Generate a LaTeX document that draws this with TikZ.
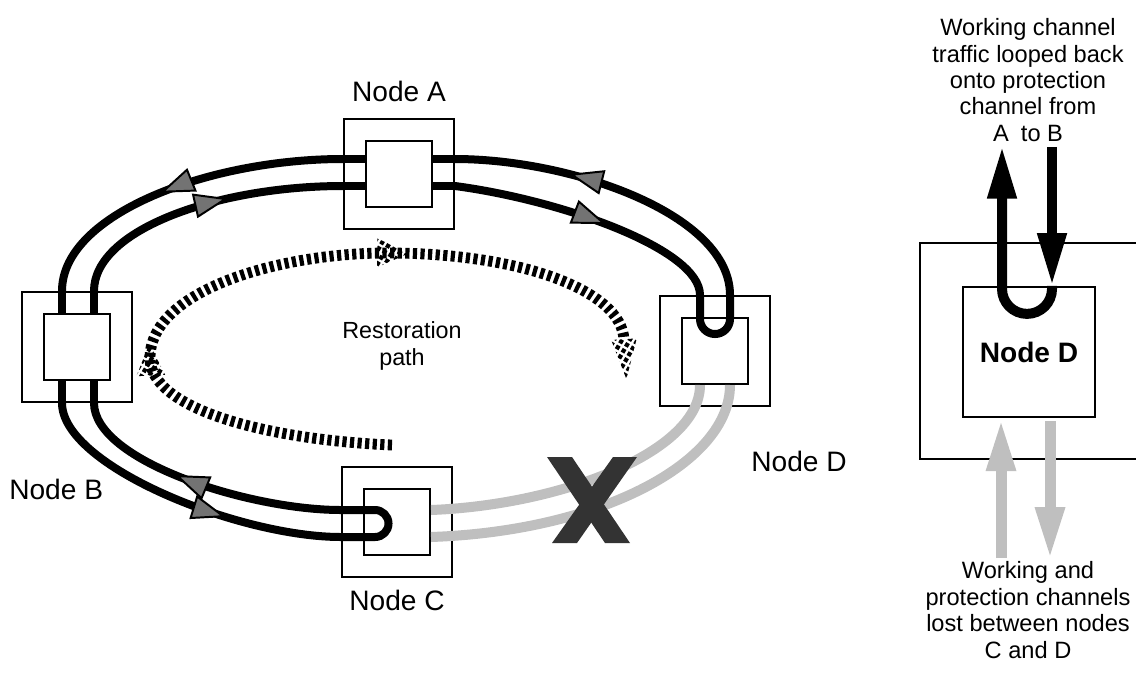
\documentclass[tikz,border=0pt]{standalone}
\usepackage{fontspec}
\setmainfont{Liberation Sans}
\usetikzlibrary{positioning, calc, arrows.meta, decorations.markings, patterns.meta}

\tikzset{
    outerbox/.style={draw, line width=0.7pt, fill=white, minimum width=13.75mm, minimum height=13.75mm, inner sep=0pt},
    innerbox/.style={draw, line width=0.7pt, fill=white, minimum width=8.25mm, minimum height=8.25mm, inner sep=0pt},
    lbl/.style={inner sep=0pt},
    smalltext/.style={inner sep=0pt, align=center, font=\fontsize{8.4}{9.4}\selectfont},
    chan/.style={line width=1mm, line cap=round, line join=round},
    chanarrow/.style={postaction={decorate, decoration={markings,
        mark=at position #1 with {\arrow{Triangle[length=4.3mm, width=3.1mm, line width=0.7pt, fill=black!55]}}}}},
    lost/.style={line width=1.25mm, draw=black!25},
    restore/.style={line width=1.35mm, dash pattern=on 1.5pt off 1.2pt},
    hatchhead/.style={pattern={Lines[angle=60, distance=2.4pt, line width=1.5pt]}},
    restoreheads/.style={postaction={decorate, decoration={markings,
        mark=at position 0.33 with {\fill[hatchhead] (2mm,0) -- (-2mm,1.8mm) -- (-2mm,-1.8mm) -- cycle;},
        mark=at position 0.68 with {\fill[hatchhead] (2mm,0) -- (-2mm,1.8mm) -- (-2mm,-1.8mm) -- cycle;},
        mark=at position 0.999 with {\fill[hatchhead] (5mm,0) -- (0,1.6mm) -- (0,-1.6mm) -- cycle;}}}},
    loopback/.style={line width=1.25mm},
    lostarrow/.style={line width=1.375mm, draw=black!25, -{Triangle[length=6.5mm, width=3.4mm]}}
}

\begin{document}
\begin{tikzpicture}[x=0.125mm, y=-0.125mm]
        \useasboundingbox (0,0) rectangle (1136,675);

        % Ring nodes
        \node[outerbox] (A) at (399,174) {};
        \node[outerbox] (B) at (77,347) {};
        \node[outerbox] (C) at (397,522) {};
        \node[outerbox] (D) at (715,351) {};
        \node[innerbox] (Ci) at (C) {};
        \node[innerbox] (Di) at (D) {};

        % Node labels
        \node[lbl, above=1.9mm of A] (labA) {Node A};
        \node[lbl, below=9.5mm of B.south, xshift=-2.6mm] (labB) {Node B};
        \node[lbl, below=1.5mm of C] (labC) {Node C};
        \node[lbl, below=5.5mm of D.south east, xshift=3.5mm] (labD) {Node D};

        % Ports of the two fibres
        \coordinate (Aow) at ($(A.west)+(0,-15)$);
        \coordinate (Aiw) at ($(A.west)+(0,12)$);
        \coordinate (Aoe) at ($(A.east)+(0,-15)$);
        \coordinate (Aie) at ($(A.east)+(0,12)$);
        \coordinate (Bon) at ($(B.north)+(-15,0)$);
        \coordinate (Bin) at ($(B.north)+(17,0)$);
        \coordinate (Bos) at ($(B.south)+(-15,0)$);
        \coordinate (Bis) at ($(B.south)+(17,0)$);
        \coordinate (Cow) at ($(C.west)+(0,15)$);
        \coordinate (Ciw) at ($(C.west)+(0,-12)$);
        \coordinate (Coe) at ($(Ci.east)+(0,15)$);
        \coordinate (Cie) at ($(Ci.east)+(0,-12)$);
        \coordinate (Don) at ($(D.north)+(15,0)$);
        \coordinate (Din) at ($(D.north)+(-15,0)$);
        \coordinate (Dos) at ($(Di.south)+(15,0)$);
        \coordinate (Dis) at ($(Di.south)+(-15,0)$);

        % Looped back traffic on the outer fibre
        \draw[chan, chanarrow=0.65] (Don) .. controls +(0,-81) and +(116,0) .. (Aoe);
        \draw[chan] (Aoe) -- (Aow);
        \draw[chan, chanarrow=0.56] (Aow) .. controls +(-134,0) and +(0,-77) .. (Bon);
        \draw[chan] (Bon) -- (Bos);
        \draw[chan, chanarrow=0.64] (Bos) .. controls +(0,63) and +(-102,0) .. (Cow);
        \draw[chan] (Cow) -- ++(34,0) arc[start angle=90, end angle=-90, radius=13.5] -- (Ciw);

        % ... and on the inner fibre
        \draw[chan, chanarrow=0.6] (Ciw) .. controls +(-92,0) and +(0,58) .. (Bis);
        \draw[chan] (Bis) -- (Bin);
        \draw[chan, chanarrow=0.6] (Bin) .. controls +(0,-62) and +(-124,0) .. (Aiw);
        \draw[chan] (Aiw) -- (Aie);
        \draw[chan, chanarrow=0.56] (Aie) .. controls +(106,14) and +(0,-46) .. (Din);
        \draw[chan] (Din) -- ++(0,24) arc[start angle=180, end angle=0, radius=15] -- (Don);

        % Inner boxes cover the fibres
        \node[innerbox] (Ai) at (A) {};
        \node[innerbox] (Bi) at (B) {};

        % Lost channels between C and D
        \draw[lost] (Cie) .. controls +(130,-5) and +(0,67) .. (Dis);
        \draw[lost] (Coe) .. controls +(171,-6) and +(0,77) .. (Dos);

        % Cut
        \fill[black!80] (547,457) -- (572,457) -- (630,543) -- (605,543) -- cycle;
        \fill[black!80] (613,457) -- (637,457) -- (577,543) -- (552,543) -- cycle;

        % Restoration path
        \draw[restore, restoreheads] (392,445) .. controls (270,440) and (150,410) .. (150,358)
            .. controls (150,290) and (280,253) .. (387,253)
            .. controls (520,253) and (622,290) .. (624,340);
        \node[smalltext, font=\fontsize{8.3}{9.9}\selectfont] (rest) at (402,346) {Restoration\\path};

        % Detail of node D
        \draw[line width=0.8pt] (1140,243) -- (920,243) -- (920,459) -- (1140,459);
        \node[draw, line width=0.8pt, fill=white, minimum width=16.5mm, minimum height=16.25mm, font=\bfseries] (Dz) at (1029,352) {Node D};
        \coordinate (dn) at ($(Dz.north)+(23,0)$);
        \coordinate (up) at ($(Dz.north)+(-27,0)$);
        \draw[loopback, -{Triangle[length=6.6mm, width=3.4mm]}] ($(dn)+(0,-139)$) -- (dn);
        \draw[loopback, -{Triangle[length=6.6mm, width=3.4mm]}] (dn) -- ++(0,3) arc[start angle=0, end angle=180, radius=25] -- ($(up)+(0,-140)$);
        \draw[lostarrow] ($(Dz.south)+(-28,140)$) -- ($(Dz.south)+(-28,1)$);
        \draw[lostarrow] ($(Dz.south)+(21,3)$) -- ($(Dz.south)+(21,141)$);

        % Notes
        \node[smalltext] (note1) at (1028,80) {Working channel\\traffic looped back\\onto protection\\channel from\\A\hspace{2pt} to B};
        \node[smalltext] (note2) at (1028,610) {Working and\\protection channels\\lost between nodes\\C and D};

    \end{tikzpicture}
\end{document}
